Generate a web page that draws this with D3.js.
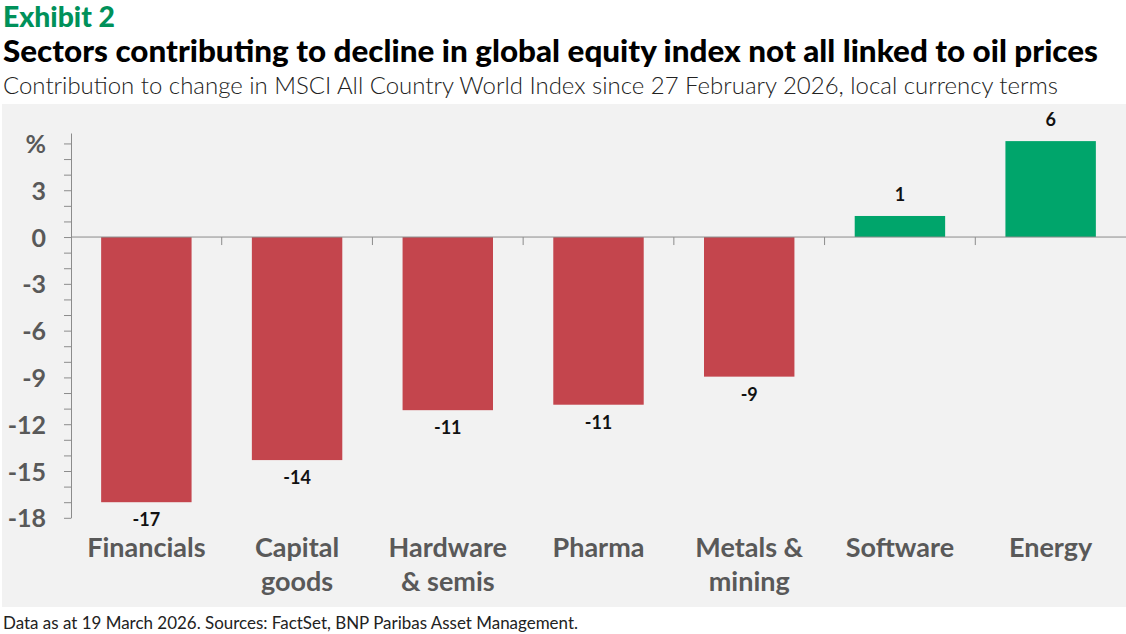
<!DOCTYPE html>
<html>
<head>
<meta charset="utf-8">
<script src="https://cdn.jsdelivr.net/npm/d3@7/dist/d3.min.js"></script>
<style>
  html, body { margin: 0; padding: 0; background: #fff; }
  svg { display: block; }
</style>
</head>
<body>
<svg id="chart" width="1126" height="634"></svg>
<script>
// ---- Data ----
const categories = ["Financials", "Capital goods", "Hardware & semis", "Pharma", "Metals & mining", "Software", "Energy"];
const categoryLines = [["Financials"], ["Capital", "goods"], ["Hardware", "& semis"], ["Pharma"], ["Metals &", "mining"], ["Software"], ["Energy"]];
const values = [-17.0, -14.3, -11.1, -10.75, -8.95, 1.35, 6.15];
const valueLabels = ["-17", "-14", "-11", "-11", "-9", "1", "6"];
const yTicks = d3.range(-18, 7);
const yTickLabels = {"-18": "-18", "-15": "-15", "-12": "-12", "-9": "-9", "-6": "-6", "-3": "-3", "0": "0", "3": "3", "6": "%"};

const exhibitText = "Exhibit 2";
const titleText = "Sectors contributing to decline in global equity index not all linked to oil prices";
const subtitleText = "Contribution to change in MSCI All Country World Index since 27 February 2026, local currency terms";
const footerText = "Data as at 19 March 2026. Sources: FactSet, BNP Paribas Asset Management.";

// ---- Setup ----
const W = 1126, H = 634;
const svg = d3.select("#chart");
const FONT = "Lato, 'Open Sans', sans-serif";

function fit(sel, target) {
  sel.attr("textLength", target).attr("lengthAdjust", "spacingAndGlyphs");
}

// Panel
svg.append("rect").attr("x", 2).attr("y", 104).attr("width", W - 2).attr("height", 503).attr("fill", "#F2F2F2");

// Header
const ex = svg.append("text").attr("x", 3).attr("y", 27).attr("font-family", FONT).attr("font-weight", 900)
  .attr("font-size", 28).attr("fill", "#00915A").text(exhibitText);
fit(ex, 112);
const ti = svg.append("text").attr("x", 3).attr("y", 62).attr("font-family", FONT).attr("font-weight", 900)
  .attr("font-size", 30).attr("fill", "#000").text(titleText);
fit(ti, 1095);
const st = svg.append("text").attr("x", 3).attr("y", 94).attr("font-family", FONT).attr("font-weight", 300)
  .attr("font-size", 23).attr("fill", "#222").text(subtitleText);
fit(st, 1055);
const ft = svg.append("text").attr("x", 3).attr("y", 629).attr("font-family", FONT).attr("font-weight", 400)
  .attr("font-size", 16.5).attr("fill", "#222").text(footerText);
fit(ft, 575);

// Scales
const x = d3.scaleBand().domain(categories).range([71, 1126]).paddingInner(0.4).paddingOuter(0.2);
const y = d3.scaleLinear().domain([-18, 6.67]).range([517.8, 133]);

// Y axis
const yAxis = d3.axisLeft(y).tickValues(yTicks).tickSize(7).tickSizeOuter(0).tickPadding(18)
  .tickFormat(d => yTickLabels[String(d)] || "");
const gy = svg.append("g").attr("transform", "translate(71,0)").call(yAxis);
gy.select(".domain").attr("stroke", "#8C8C8C").attr("stroke-width", 1);
gy.selectAll(".tick line").attr("stroke", "#8C8C8C");
gy.selectAll(".tick text").attr("font-family", FONT).attr("font-weight", 700).attr("font-size", 25)
  .attr("fill", "#595959").attr("dy", "0.36em");

// Bars
svg.append("g").selectAll("rect").data(categories).join("rect")
  .attr("x", d => x(d))
  .attr("width", x.bandwidth())
  .attr("y", (d, i) => y(Math.max(0, values[i])))
  .attr("height", (d, i) => Math.abs(y(values[i]) - y(0)))
  .attr("fill", (d, i) => values[i] < 0 ? "#C4454D" : "#00A56B");

// Zero line + category ticks at band boundaries
const gap = (x.step() - x.bandwidth()) / 2;
svg.append("line").attr("x1", 71).attr("x2", 1126).attr("y1", y(0)).attr("y2", y(0))
  .attr("stroke", "#8C8C8C").attr("stroke-width", 1);
svg.append("g").selectAll("line").data(categories.slice(1)).join("line")
  .attr("x1", d => x(d) - gap)
  .attr("x2", d => x(d) - gap)
  .attr("y1", y(0)).attr("y2", y(0) + 8)
  .attr("stroke", "#8C8C8C");

// Value labels
svg.append("g").selectAll("text").data(categories).join("text")
  .attr("x", d => x(d) + x.bandwidth() / 2)
  .attr("y", (d, i) => values[i] < 0 ? y(values[i]) + 24 : y(values[i]) - 15)
  .attr("text-anchor", "middle")
  .attr("font-family", FONT).attr("font-weight", 700).attr("font-size", 18).attr("fill", "#111")
  .text((d, i) => valueLabels[i]);

// Category labels
const cl = svg.append("g").selectAll("text").data(categories).join("text")
  .attr("x", d => x(d) + x.bandwidth() / 2)
  .attr("y", 557)
  .attr("text-anchor", "middle")
  .attr("font-family", FONT).attr("font-weight", 700).attr("font-size", 27).attr("fill", "#595959");
cl.each(function(d, i) {
  const t = d3.select(this);
  categoryLines[i].forEach((line, j) => {
    t.append("tspan").attr("x", x(d) + x.bandwidth() / 2).attr("y", 557 + j * 34).text(line);
  });
});
</script>
</body>
</html>
